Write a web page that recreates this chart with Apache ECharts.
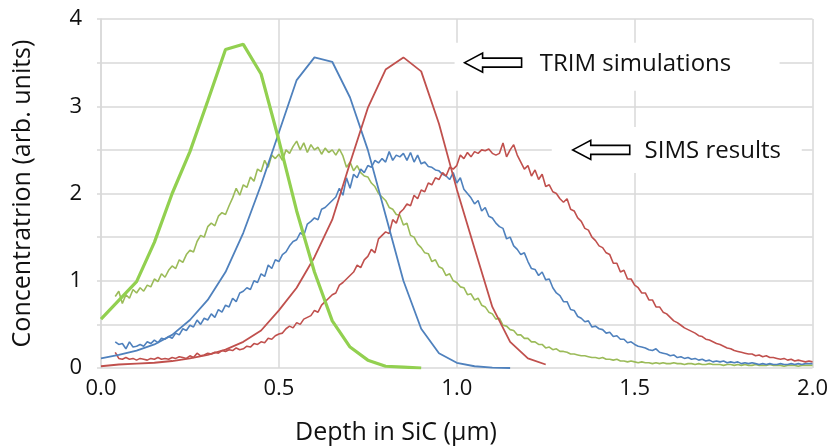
<!DOCTYPE html>
<html>
<head>
<meta charset="utf-8">
<script src="https://cdn.jsdelivr.net/npm/echarts@6/dist/echarts.min.js"></script>
<style>
html,body{margin:0;padding:0;background:#fff;}
#chart{width:831px;height:448px;}
</style>
</head>
<body>
<div id="chart"></div>
<script>
// ---------- DATA ----------
const xTicks = ['0.0', '0.5', '1.0', '1.5', '2.0'];
const yTicks = ['0', '1', '2', '3', '4'];

// TRIM simulations
const trimGreenDepth = [0, 0.1, 0.15, 0.2, 0.25, 0.3, 0.35, 0.4, 0.45, 0.5, 0.55, 0.6, 0.65, 0.7, 0.75, 0.8, 0.85, 0.9];
const trimGreen = [0.56, 0.99, 1.44, 2.0, 2.48, 3.06, 3.65, 3.71, 3.37, 2.61, 1.8, 1.1, 0.54, 0.24, 0.09, 0.02, 0.01, 0.0];

const trimBlueDepth = [0, 0.05, 0.1, 0.15, 0.2, 0.25, 0.3, 0.35, 0.4, 0.45, 0.5, 0.55, 0.6, 0.65, 0.7, 0.75, 0.8, 0.85, 0.9, 0.95, 1.0, 1.05, 1.1, 1.15];
const trimBlue = [0.11, 0.15, 0.2, 0.27, 0.38, 0.55, 0.78, 1.1, 1.55, 2.1, 2.7, 3.3, 3.56, 3.51, 3.1, 2.5, 1.75, 1.0, 0.45, 0.17, 0.06, 0.02, 0.005, 0];

const trimRedDepth = [0, 0.05, 0.1, 0.15, 0.2, 0.25, 0.3, 0.35, 0.4, 0.45, 0.5, 0.55, 0.6, 0.65, 0.7, 0.75, 0.8, 0.85, 0.9, 0.95, 1.0, 1.05, 1.1, 1.15, 1.2, 1.25];
const trimRed = [0.02, 0.04, 0.05, 0.06, 0.08, 0.11, 0.15, 0.21, 0.3, 0.43, 0.66, 0.92, 1.27, 1.7, 2.35, 2.98, 3.42, 3.56, 3.40, 2.8, 2.05, 1.37, 0.7, 0.3, 0.11, 0.04];

// SIMS results (shared depth grid)
const simsDepth = [
  0.04, 0.05, 0.06, 0.07, 0.08, 0.09,
  0.10, 0.11, 0.12, 0.13, 0.14, 0.15, 0.16, 0.17, 0.18, 0.19,
  0.20, 0.21, 0.22, 0.23, 0.24, 0.25, 0.26, 0.27, 0.28, 0.29,
  0.30, 0.31, 0.32, 0.33, 0.34, 0.35, 0.36, 0.37, 0.38, 0.39,
  0.40, 0.41, 0.42, 0.43, 0.44, 0.45, 0.46, 0.47, 0.48, 0.49,
  0.50, 0.51, 0.52, 0.53, 0.54, 0.55, 0.56, 0.57, 0.58, 0.59,
  0.60, 0.61, 0.62, 0.63, 0.64, 0.65, 0.66, 0.67, 0.68, 0.69,
  0.70, 0.71, 0.72, 0.73, 0.74, 0.75, 0.76, 0.77, 0.78, 0.79,
  0.80, 0.81, 0.82, 0.83, 0.84, 0.85, 0.86, 0.87, 0.88, 0.89,
  0.90, 0.91, 0.92, 0.93, 0.94, 0.95, 0.96, 0.97, 0.98, 0.99,
  1.00, 1.01, 1.02, 1.03, 1.04, 1.05, 1.06, 1.07, 1.08, 1.09,
  1.10, 1.11, 1.12, 1.13, 1.14, 1.15, 1.16, 1.17, 1.18, 1.19,
  1.20, 1.21, 1.22, 1.23, 1.24, 1.25, 1.26, 1.27, 1.28, 1.29,
  1.30, 1.31, 1.32, 1.33, 1.34, 1.35, 1.36, 1.37, 1.38, 1.39,
  1.40, 1.41, 1.42, 1.43, 1.44, 1.45, 1.46, 1.47, 1.48, 1.49,
  1.50, 1.51, 1.52, 1.53, 1.54, 1.55, 1.56, 1.57, 1.58, 1.59,
  1.60, 1.61, 1.62, 1.63, 1.64, 1.65, 1.66, 1.67, 1.68, 1.69,
  1.70, 1.71, 1.72, 1.73, 1.74, 1.75, 1.76, 1.77, 1.78, 1.79,
  1.80, 1.81, 1.82, 1.83, 1.84, 1.85, 1.86, 1.87, 1.88, 1.89,
  1.90, 1.91, 1.92, 1.93, 1.94, 1.95, 1.96, 1.97, 1.98, 1.99,
  2.00
];

const simsGreen = [
  0.82, 0.88, 0.74, 0.84, 0.80, 0.90,
  0.86, 0.92, 0.88, 0.95, 0.93, 1.02, 0.99, 1.08, 1.04, 1.12,
  1.17, 1.14, 1.24, 1.21, 1.30, 1.35, 1.33, 1.45, 1.52, 1.50,
  1.62, 1.66, 1.63, 1.74, 1.78, 1.76, 1.86, 1.95, 2.06, 1.98,
  2.10, 2.07, 2.19, 2.14, 2.28, 2.25, 2.38, 2.30, 2.44, 2.40,
  2.45, 2.38, 2.50, 2.46, 2.54, 2.60, 2.50, 2.58, 2.47, 2.56,
  2.50, 2.53, 2.45, 2.52, 2.47, 2.50, 2.44, 2.51, 2.43, 2.30,
  2.36, 2.26, 2.32, 2.24, 2.20, 2.19, 2.12, 2.08, 2.00, 1.96,
  1.92, 1.84, 1.82, 1.76, 1.75, 1.64, 1.66, 1.52, 1.50, 1.42,
  1.38, 1.32, 1.31, 1.22, 1.24, 1.16, 1.14, 1.06, 1.08, 1.00,
  0.98, 0.93, 0.92, 0.84, 0.85, 0.78, 0.80, 0.72, 0.70, 0.64,
  0.62, 0.56, 0.57, 0.49, 0.48, 0.44, 0.43, 0.38, 0.38, 0.34,
  0.34, 0.30, 0.30, 0.27, 0.27, 0.23, 0.24, 0.21, 0.22, 0.19,
  0.19, 0.18, 0.16, 0.16, 0.15, 0.14, 0.14, 0.13, 0.12, 0.12,
  0.11, 0.12, 0.10, 0.10, 0.09, 0.10, 0.08, 0.08, 0.07, 0.08,
  0.07, 0.06, 0.07, 0.06, 0.06, 0.05, 0.06, 0.05, 0.06, 0.05,
  0.05, 0.06, 0.05, 0.05, 0.04, 0.05, 0.05, 0.04, 0.05, 0.04,
  0.04, 0.05, 0.04, 0.04, 0.04, 0.03, 0.04, 0.04, 0.03, 0.04,
  0.03, 0.04, 0.03, 0.03, 0.04, 0.03, 0.03, 0.03, 0.04, 0.03,
  0.03, 0.03, 0.02, 0.03, 0.03, 0.03, 0.02, 0.03, 0.03, 0.03,
  0.03
];

const simsBlue = [
  0.30, 0.27, 0.28, 0.22, 0.30, 0.24,
  0.25, 0.27, 0.25, 0.30, 0.28, 0.32, 0.29, 0.34, 0.33, 0.36,
  0.34, 0.40, 0.38, 0.45, 0.43, 0.49, 0.47, 0.55, 0.50, 0.57,
  0.55, 0.62, 0.58, 0.67, 0.64, 0.72, 0.70, 0.80, 0.76, 0.86,
  0.88, 0.92, 0.90, 1.00, 0.98, 1.08, 1.05, 1.18, 1.14, 1.24,
  1.22, 1.30, 1.33, 1.40, 1.45, 1.47, 1.55, 1.52, 1.65, 1.68,
  1.72, 1.70, 1.82, 1.84, 1.88, 1.92, 1.96, 2.06, 1.98, 2.18,
  2.06, 2.22, 2.18, 2.28, 2.24, 2.32, 2.30, 2.38, 2.35, 2.40,
  2.36, 2.48, 2.38, 2.44, 2.42, 2.46, 2.38, 2.47, 2.36, 2.44,
  2.34, 2.36, 2.31, 2.30, 2.27, 2.26, 2.22, 2.20, 2.16, 2.24,
  2.12, 2.18, 2.05, 2.00, 1.95, 1.88, 1.92, 1.80, 1.84, 1.74,
  1.72, 1.66, 1.62, 1.60, 1.48, 1.50, 1.40, 1.36, 1.30, 1.32,
  1.22, 1.14, 1.13, 1.06, 1.10, 1.01, 1.02, 0.92, 0.86, 0.83,
  0.76, 0.76, 0.67, 0.66, 0.59, 0.57, 0.53, 0.54, 0.47, 0.48,
  0.45, 0.44, 0.40, 0.41, 0.36, 0.37, 0.33, 0.33, 0.29, 0.30,
  0.27, 0.25, 0.24, 0.23, 0.21, 0.20, 0.22, 0.18, 0.17, 0.16,
  0.14, 0.15, 0.12, 0.13, 0.11, 0.12, 0.10, 0.11, 0.09, 0.10,
  0.08, 0.09, 0.07, 0.08, 0.07, 0.08, 0.06, 0.07, 0.06, 0.07,
  0.05, 0.06, 0.05, 0.06, 0.05, 0.04, 0.05, 0.04, 0.05, 0.04,
  0.04, 0.05, 0.04, 0.04, 0.05, 0.04, 0.05, 0.04, 0.05, 0.05,
  0.05
];

const simsRed = [
  0.18, 0.11, 0.10, 0.12, 0.10, 0.11,
  0.09, 0.11, 0.10, 0.09, 0.11, 0.10, 0.12, 0.10, 0.11, 0.10,
  0.12, 0.11, 0.13, 0.12, 0.11, 0.14, 0.12, 0.17, 0.14, 0.15,
  0.17, 0.16, 0.18, 0.17, 0.20, 0.19, 0.21, 0.20, 0.23, 0.21,
  0.22, 0.25, 0.24, 0.28, 0.27, 0.30, 0.29, 0.34, 0.33, 0.37,
  0.39, 0.40, 0.45, 0.48, 0.46, 0.52, 0.50, 0.56, 0.58, 0.60,
  0.66, 0.64, 0.72, 0.76, 0.80, 0.84, 0.86, 0.95, 0.98, 1.02,
  1.06, 1.10, 1.18, 1.15, 1.24, 1.28, 1.36, 1.32, 1.48, 1.52,
  1.56, 1.54, 1.70, 1.66, 1.78, 1.82, 1.88, 1.86, 1.98, 1.94,
  2.04, 2.02, 2.12, 2.10, 2.18, 2.16, 2.24, 2.20, 2.30, 2.28,
  2.32, 2.44, 2.40, 2.47, 2.42, 2.48, 2.46, 2.50, 2.49, 2.51,
  2.46, 2.44, 2.46, 2.58, 2.42, 2.50, 2.56, 2.44, 2.36, 2.28,
  2.32, 2.20, 2.27, 2.16, 2.22, 2.08, 2.10, 2.02, 2.00, 1.94,
  1.90, 1.94, 1.82, 1.80, 1.72, 1.68, 1.60, 1.58, 1.50, 1.46,
  1.40, 1.38, 1.32, 1.30, 1.20, 1.20, 1.10, 1.12, 1.02, 1.02,
  0.95, 0.92, 0.86, 0.86, 0.78, 0.78, 0.70, 0.70, 0.64, 0.62,
  0.58, 0.54, 0.52, 0.49, 0.46, 0.44, 0.42, 0.40, 0.37, 0.36,
  0.33, 0.32, 0.30, 0.28, 0.27, 0.25, 0.23, 0.22, 0.20, 0.19,
  0.18, 0.17, 0.16, 0.16, 0.14, 0.15, 0.13, 0.14, 0.12, 0.12,
  0.11, 0.10, 0.11, 0.09, 0.10, 0.08, 0.09, 0.08, 0.07, 0.08,
  0.07
];

// Annotation anchors (data units)
const annotations = [
  { text: 'TRIM simulations', arrowTip: [1.022, 3.50], textAt: [1.233, 3.48] },
  { text: 'SIMS results', arrowTip: [1.326, 2.50], textAt: [1.528, 2.48] }
];

// ---------- CHART ----------
const FONT = 'Open Sans';
const pairs = (xs, ys) => xs.map((x, i) => [x, ys[i]]);
const chart = echarts.init(document.getElementById('chart'), null, { renderer: 'canvas' });

function lineSeries(name, data, color, width, z) {
  return {
    name, type: 'line', data, showSymbol: false, symbol: 'none', smooth: false,
    lineStyle: { color, width }, itemStyle: { color }, z: z || 3, animation: false
  };
}

const option = {
  backgroundColor: '#ffffff',
  animation: false,
  grid: { left: 101, right: 18, top: 19, bottom: 80, containLabel: false },
  title: {
    text: 'Depth in SiC (μm)', left: 290, top: 415,
    textStyle: { fontFamily: FONT, fontSize: 25, fontWeight: 'normal', color: '#111' }
  },
  xAxis: {
    type: 'value', min: 0, max: 2, interval: 0.5,
    axisLine: { show: false },
    axisTick: { show: false },
    splitLine: { show: true, lineStyle: { color: '#d9d9d9', width: 1.5 } },
    axisLabel: {
      margin: 10, fontFamily: FONT, fontSize: 22, color: '#111',
      formatter: v => xTicks[Math.round(v / 0.5)]
    }
  },
  yAxis: {
    type: 'value', min: 0, max: 4, interval: 0.5,
    name: 'Concentratrion (arb. units)', nameLocation: 'middle', nameGap: 66,
    nameTextStyle: { fontFamily: FONT, fontSize: 25, color: '#111' },
    axisLine: { show: true, lineStyle: { color: '#d9d9d9', width: 1.5 } },
    axisTick: { show: true, inside: false, length: 4, lineStyle: { color: '#d9d9d9', width: 1.5 } },
    splitLine: { show: true, lineStyle: { color: '#d9d9d9', width: 1.5 } },
    axisLabel: {
      margin: 19, fontFamily: FONT, fontSize: 22, color: '#111',
      formatter: v => (Math.abs(v - Math.round(v)) < 1e-9 ? yTicks[Math.round(v)] : '')
    }
  },
  series: [
    lineSeries('SIMS green', pairs(simsDepth, simsGreen), '#9BBB59', 1.6),
    lineSeries('SIMS blue', pairs(simsDepth, simsBlue), '#4F81BD', 1.6),
    lineSeries('SIMS red', pairs(simsDepth, simsRed), '#C0504D', 1.6),
    lineSeries('TRIM blue', pairs(trimBlueDepth, trimBlue), '#4F81BD', 1.8),
    lineSeries('TRIM red', pairs(trimRedDepth, trimRed), '#C0504D', 1.8),
    lineSeries('TRIM green', pairs(trimGreenDepth, trimGreen), '#92D050', 3.2, 4)
  ]
};
chart.setOption(option);

// Annotations: white label boxes that break the gridlines, hollow arrows
function drawAnnotations() {
  const arrowShape = [[0, 0], [18, -9.5], [18, -4.5], [57, -4.5], [57, 4.5], [18, 4.5], [18, 9.5]];
  const elements = [];
  const boxes = [
    { w: 325, h: 48, dx: -10, dy: -20 },
    { w: 250, h: 46, dx: -21, dy: -23 }
  ];
  annotations.forEach((a, i) => {
    const tip = chart.convertToPixel({ gridIndex: 0 }, a.arrowTip);
    const txt = chart.convertToPixel({ gridIndex: 0 }, a.textAt);
    const b = boxes[i];
    elements.push({
      type: 'rect', z: 1, silent: true,
      shape: { x: tip[0] + b.dx, y: tip[1] + b.dy, width: b.w, height: b.h },
      style: { fill: '#ffffff' }
    });
    elements.push({
      type: 'polygon', z: 5, silent: true,
      x: tip[0], y: tip[1],
      shape: { points: arrowShape },
      style: { fill: '#ffffff', stroke: '#000000', lineWidth: 1.6 }
    });
    elements.push({
      type: 'text', z: 5, silent: true,
      x: txt[0], y: txt[1],
      style: { text: a.text, fontFamily: FONT, fontSize: 24, fill: '#111', verticalAlign: 'middle', align: 'left' }
    });
  });
  chart.setOption({ graphic: { elements } });
}
drawAnnotations();
</script>
</body>
</html>
